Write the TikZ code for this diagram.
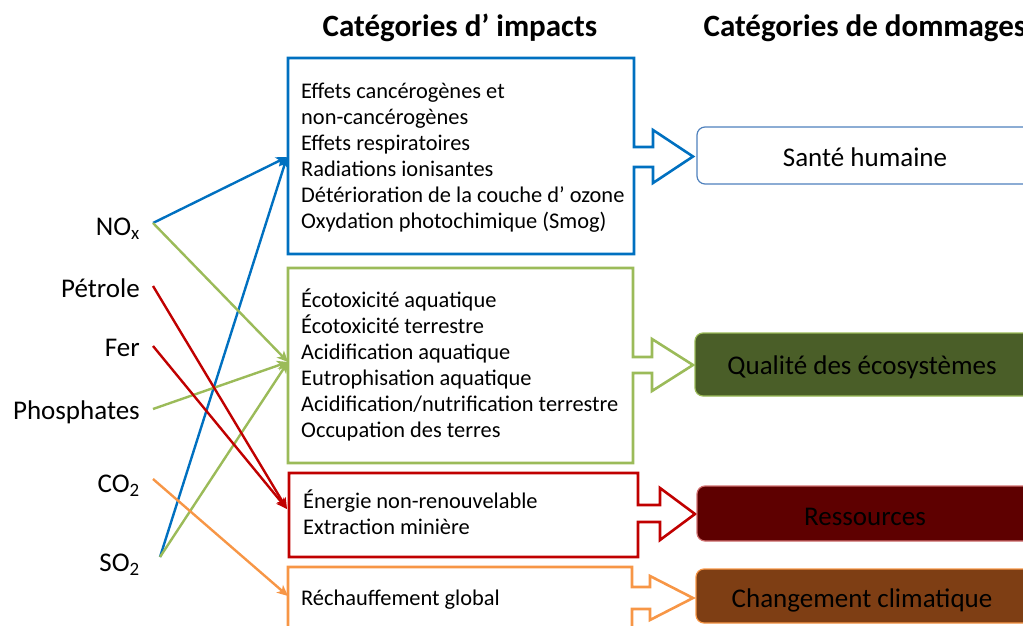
\documentclass[tikz,border=0pt]{standalone}
\usepackage{fontspec}
\setmainfont{Carlito}
\usetikzlibrary{arrows.meta}
\definecolor{cblue}{HTML}{0070C0}
\definecolor{cgreen}{HTML}{9BBB59}
\definecolor{cred}{HTML}{C00000}
\definecolor{corange}{HTML}{F79646}
\definecolor{sbord}{HTML}{4F81BD}
\definecolor{qfill}{HTML}{4A5E28}
\definecolor{rfill}{HTML}{5E0000}
\definecolor{rbord}{HTML}{D07070}
\definecolor{cfill}{HTML}{7E3E14}
% #1 color, #2 L, #3 T, #4 R, #5 B, #6 shaft top, #7 shaft bottom, #8 shaft x, #9 tip x ; \hdt \hdb head top/bottom
\newcommand\impactoutline[9]{%
  \draw[outl,#1] (#4,-#6) -- (#4,-#3) -- (#2,-#3) -- (#2,-#5) -- (#4,-#5) -- (#4,-#7) -- (#8,-#7)
     -- (#8,-\hdb) -- (#9,{-(\hdt+\hdb)/2}) -- (#8,-\hdt) -- (#8,-#6) -- cycle;}
\begin{document}
\begin{tikzpicture}[x=1pt,y=1pt,
  outl/.style={line width=2.6pt, line join=miter},
  lab/.style={anchor=east, inner sep=0pt, font=\fontsize{27}{30}\selectfont},
  itext/.style={anchor=north west, inner sep=0pt, align=left, font=\fontsize{22.4}{26}\selectfont},
  dmg/.style={rounded corners=8pt, line width=1.2pt},
  dtext/.style={inner sep=0pt, font=\fontsize{27}{30}\selectfont},
  title/.style={inner sep=0pt, font=\bfseries\fontsize{31}{34}\selectfont},
  conn/.style={line width=2.4pt, -{Stealth[length=11pt,width=10pt,inset=3pt]}}]
\useasboundingbox (0,0) rectangle (1023,-626);
\clip (0,0) rectangle (1023,-626);
% titles
\node[title] (t1) at (460,-28) {Catégories d’ impacts};
\node[title] (t2) at (865,-28) {Catégories de dommages};
% impact boxes with block arrows
\def\hdt{130}\def\hdb{183}
\impactoutline{cblue}{288}{58}{634}{254}{147}{167}{653}{693}
\def\hdt{339}\def\hdb{391}
\impactoutline{cgreen}{288}{268}{633}{463}{357}{373}{652}{693}
\def\hdt{488}\def\hdb{540}
\impactoutline{cred}{289}{473}{638}{557}{505}{522}{660}{695}
\def\hdt{576}\def\hdb{620}
\impactoutline{corange}{288}{567}{632}{650}{587}{609}{650}{693}
% impact texts
\node[itext] (ib) at (301,-83) {Effets cancérogènes et\\non-cancérogènes\\Effets respiratoires\\Radiations ionisantes\\Détérioration de la couche d’ ozone\\Oxydation photochimique (Smog)};
\node[itext] (ig) at (301,-289) {Écotoxicité aquatique\\Écotoxicité terrestre\\Acidification aquatique\\Eutrophisation aquatique\\Acidification/nutrification terrestre\\Occupation des terres};
\node[itext] (ir) at (303,-490) {Énergie non-renouvelable\\Extraction minière};
\node[itext] (io) at (301,-590) {Réchauffement global};
% damage boxes
\draw[dmg, sbord, fill=white] (697,-127) rectangle (1045,-184);
\node[dtext] (d1) at (865,-157) {Santé humaine};
\draw[dmg, cgreen, fill=qfill] (695,-333) rectangle (1045,-396);
\node[dtext] (d2) at (862,-367) {Qualité des écosystèmes};
\draw[dmg, rbord, fill=rfill] (697,-486) rectangle (1045,-541);
\node[dtext] (d3) at (865,-517) {Ressources};
\draw[dmg, corange, fill=cfill] (696,-569) rectangle (1045,-623);
\node[dtext] (d4) at (862,-600) {Changement climatique};
% source labels
\node[lab] (nox) at (140,-229) {NO\textsubscript{x}};
\node[lab] (pet) at (140,-288) {Pétrole};
\node[lab] (fer) at (140,-348) {Fer};
\node[lab] (pho) at (140,-412) {Phosphates};
\node[lab] (co2) at (140,-486) {CO\textsubscript{2}};
\node[lab] (so2) at (140,-565) {SO\textsubscript{2}};
% connector end points
\coordinate (noxo) at (153,-223);
\coordinate (peto) at (153,-286);
\coordinate (fero) at (153,-346);
\coordinate (phoo) at (153,-409);
\coordinate (co2o) at (153,-479);
\coordinate (so2o) at (160,-557);
\coordinate (bin) at (287,-157);
\coordinate (gin) at (288,-362);
\coordinate (rin) at (287,-509);
\coordinate (oin) at (288,-596);
% connectors
\draw[conn, cblue] (noxo) -- (bin);
\draw[conn, cblue] (so2o) -- (bin);
\draw[conn, cgreen] (noxo) -- (gin);
\draw[conn, cgreen] (phoo) -- (gin);
\draw[conn, cgreen] (so2o) -- (gin);
\draw[conn, cred] (peto) -- (rin);
\draw[conn, cred] (fero) -- (rin);
\draw[conn, corange] (co2o) -- (oin);
\end{tikzpicture}
\end{document}
